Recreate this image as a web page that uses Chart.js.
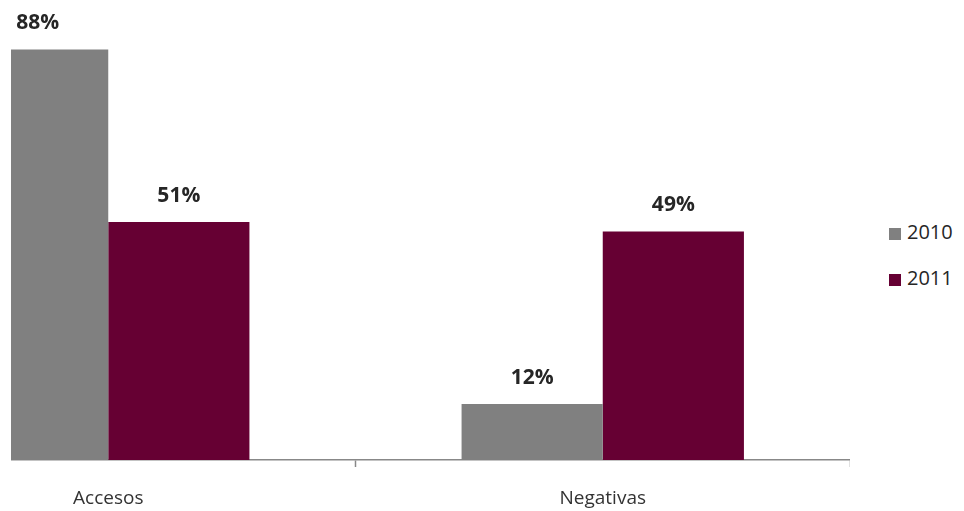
<!DOCTYPE html>
<html>
<head>
<meta charset="utf-8">
<script src="https://cdn.jsdelivr.net/npm/chart.js@4/dist/chart.umd.min.js"></script>
<style>
  html, body { margin: 0; padding: 0; background: #fff; }
  body { width: 964px; height: 511px; position: relative; overflow: hidden; font-family: "Open Sans", sans-serif; }
  #wrap { position: absolute; left: 11px; top: 0; width: 953px; height: 511px; overflow: hidden; }
  #grafico { position: absolute; left: -150px; top: 0; }
  #leyenda { position: absolute; left: 889px; top: 218px; font-size: 20px; color: #262626; }
  #leyenda div { height: 46px; line-height: 28px; white-space: nowrap; }
  #leyenda span.cuadro { display: inline-block; width: 12px; height: 12px; margin-right: 6px; vertical-align: -1px; }
</style>
</head>
<body>
<div id="wrap"><canvas id="grafico" width="989" height="511"></canvas></div>
<div id="leyenda"></div>
<script>
const categorias = ["Accesos", "Negativas"];
const anios = ["2010", "2011"];
const valores2010 = [88, 12];
const valores2011 = [51, 49];
const colores = ["#808080", "#660033"];

// etiquetas de porcentaje encima de cada barra
const etiquetasPct = {
  id: "etiquetasPct",
  afterDatasetsDraw(chart) {
    const ctx = chart.ctx;
    ctx.save();
    ctx.font = "bold 21px 'Open Sans'";
    ctx.fillStyle = "#262626";
    ctx.textAlign = "center";
    ctx.textBaseline = "middle";
    chart.data.datasets.forEach((ds, i) => {
      chart.getDatasetMeta(i).data.forEach((bar, j) => {
        ctx.fillText(ds.data[j] + "%", bar.x, bar.y - 26);
      });
    });
    ctx.restore();
  }
};

function crearGrafico() {
  const data = {
    labels: categorias,
    datasets: [
      { label: anios[0], data: valores2010, backgroundColor: colores[0] },
      { label: anios[1], data: valores2011, backgroundColor: colores[1] }
    ]
  };

  const config = {
    type: "bar",
    data: data,
    options: {
      responsive: false,
      animation: false,
      devicePixelRatio: 1,
      layout: { padding: 0 },
      datasets: { bar: { categoryPercentage: 0.571, barPercentage: 1 } },
      plugins: { legend: { display: false }, tooltip: { enabled: false } },
      scales: {
        x: {
          offset: true,
          grid: { display: true, drawOnChartArea: false, drawTicks: true, tickLength: 7, tickColor: "#888", tickWidth: 1.5, offset: true },
          border: { display: true, color: "#888", width: 1.5 },
          ticks: { color: "#333", padding: 20, font: { family: "Open Sans", size: 19 } },
          afterFit: s => { s.height = 51; }
        },
        y: { display: false, min: 0, max: 98.6 }
      }
    },
    plugins: [etiquetasPct]
  };

  const myChart = new Chart(document.getElementById("grafico"), config);

  // leyenda a la derecha
  const leyenda = document.getElementById("leyenda");
  myChart.data.datasets.forEach(ds => {
    const fila = document.createElement("div");
    const cuadro = document.createElement("span");
    cuadro.className = "cuadro";
    cuadro.style.background = ds.backgroundColor;
    fila.appendChild(cuadro);
    fila.appendChild(document.createTextNode(ds.label));
    leyenda.appendChild(fila);
  });
}

Promise.all([
  document.fonts.load("19px 'Open Sans'"),
  document.fonts.load("bold 21px 'Open Sans'")
]).then(crearGrafico, crearGrafico);
</script>
</body>
</html>
